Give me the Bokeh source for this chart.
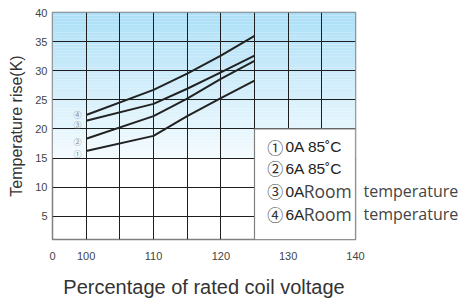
import numpy as np
from bokeh.plotting import figure
from bokeh.models import FixedTicker, Label, LinearAxis
from bokeh.embed import file_html
from bokeh.resources import INLINE

# ---- data ----
voltage = [100, 110, 115, 120, 125]
rise_0a_85 = [16.2, 18.8, 22.2, 25.3, 28.3]      # ①
rise_6a_85 = [18.3, 22.2, 25.2, 28.6, 31.7]      # ②
rise_0a_room = [21.4, 24.3, 26.9, 29.7, 32.6]    # ③
rise_6a_room = [22.4, 26.7, 29.5, 32.6, 36.0]    # ④

series = [rise_0a_85, rise_6a_85, rise_0a_room, rise_6a_room]
marks = ["①", "②", "③", "④"]
currents = ["0A", "6A", "0A", "6A"]
conditions = ["85˚C", "85˚C", "Room", "Room"]

x_ticks = [95, 100, 110, 120, 130, 140]
x_tick_overrides = {95: "0"}
y_ticks = [5, 10, 15, 20, 25, 30, 35, 40]
x_grid = [100, 105, 110, 115, 120, 125, 130, 135]
y_grid = [5, 10, 15, 20, 25, 30, 35]

X0, X1 = 95, 140
Y0, Y1 = 1, 40

p = figure(width=461, height=300, x_range=(X0, X1), y_range=(Y0, Y1),
           output_backend="svg", toolbar_location=None,
           min_border_left=52, min_border_right=106,
           min_border_top=12, min_border_bottom=61)

p.background_fill_color = "white"
p.border_fill_color = "white"
p.outline_line_color = "#808080"
p.outline_line_width = 1.5

# gradient background (light blue top -> near white at 15)
n = 50
ys = np.linspace(15, Y1, n + 1)
top_c = np.array([172, 223, 247])
bot_c = np.array([244, 251, 254])
cols = []
for i in range(n):
    t = (ys[i] + ys[i + 1]) / 2
    f = (t - 15) / (Y1 - 15)
    c = bot_c + (top_c - bot_c) * f
    cols.append("#%02x%02x%02x" % tuple(int(round(v)) for v in c))
p.quad(left=X0, right=X1, bottom=ys[:-1], top=ys[1:], fill_color=cols,
       line_color=None, level="image")

# grid
p.xgrid.ticker = FixedTicker(ticks=x_grid)
p.ygrid.ticker = FixedTicker(ticks=y_grid)
for g in (p.xgrid, p.ygrid):
    g.grid_line_color = "#1e1e1e"
    g.grid_line_width = 1

# axes
p.xaxis.ticker = FixedTicker(ticks=x_ticks)
p.xaxis.major_label_overrides = x_tick_overrides
p.yaxis.ticker = FixedTicker(ticks=y_ticks)
for ax in (p.xaxis, p.yaxis):
    ax.axis_line_color = None
    ax.major_tick_line_color = None
    ax.minor_tick_line_color = None
    ax.major_tick_out = 0
    ax.major_tick_in = 0
    ax.minor_tick_out = 0
    ax.major_label_text_font = "Liberation Sans"
    ax.major_label_text_font_size = "11px"
    ax.major_label_text_color = "#444444"
    ax.axis_label_text_font = "Liberation Sans"
    ax.axis_label_text_font_style = "normal"
    ax.axis_label_text_color = "#333333"
p.xaxis.major_label_standoff = 12
p.yaxis.major_label_standoff = 5
p.xaxis.axis_label = "Percentage of rated coil voltage"
p.xaxis.axis_label_text_font_size = "20px"
p.xaxis.axis_label_standoff = 13
p.yaxis.axis_label = "Temperature rise(K)"
p.yaxis.axis_label_text_font_size = "16px"
p.yaxis.axis_label_standoff = 7

# curves
for s in series:
    p.line(voltage, s, line_color="#222222", line_width=2)

# curve markers at left
mark_y = [15.8, 17.85, 20.8, 22.5]
for m, yy in zip(marks, mark_y):
    p.add_layout(Label(x=98.7, y=yy, text=m, text_align="center",
                       text_baseline="middle", text_font="Noto Sans CJK JP",
                       text_font_size="8px", text_color="#888888"))

# legend box
p.quad(left=125, right=X1, bottom=Y0, top=20, fill_color="white",
       line_color="#808080", line_width=1.2)

row_y = [16.92, 13.23, 9.28, 5.34]
room_rows = []
for m, cur, cond, yy in zip(marks, currents, conditions, row_y):
    p.add_layout(Label(x=126.9, y=yy, text=m, text_align="left",
                       text_baseline="middle", text_font="Noto Sans CJK JP",
                       text_font_size="16px", text_color="#333333"))
    if cond == "Room":
        room_rows.append(yy)
        p.add_layout(Label(x=129.6, y=yy, text=cur, text_align="left",
                           text_baseline="middle", text_font="Liberation Sans",
                           text_font_size="15.5px", text_color="#222222"))
        p.add_layout(Label(x=132.3, y=yy, text="Room", text_align="left",
                           text_baseline="middle", text_font="Open Sans",
                           text_font_size="17.5px", text_color="#444444"))
    else:
        p.add_layout(Label(x=129.6, y=yy, text=cur + " " + cond, text_align="left",
                           text_baseline="middle", text_font="Liberation Sans",
                           text_font_size="15.5px", text_color="#222222"))

# the word that continues past the frame: right-side axis labels
right = LinearAxis(ticker=FixedTicker(ticks=room_rows),
                   major_label_overrides={v: "temperature" for v in room_rows})
right.axis_line_color = None
right.major_tick_line_color = None
right.minor_tick_line_color = None
right.major_tick_out = 0
right.major_tick_in = 0
right.minor_tick_out = 0
right.major_label_standoff = 8
right.major_label_text_font = "Open Sans"
right.major_label_text_font_size = "16px"
right.major_label_text_color = "#444444"
p.add_layout(right, "right")

open("out.html", "w").write(file_html(p, INLINE))
